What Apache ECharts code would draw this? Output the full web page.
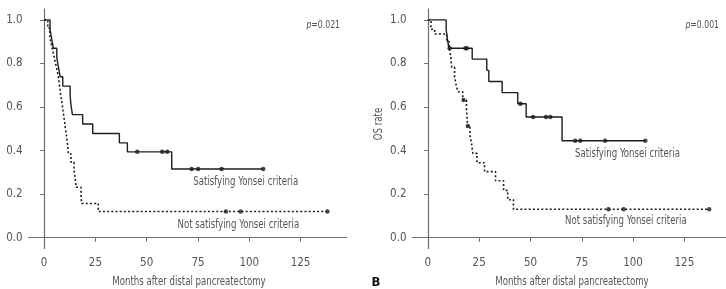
<!DOCTYPE html>
<html>
<head>
<meta charset="utf-8">
<script src="https://cdn.jsdelivr.net/npm/echarts@6/dist/echarts.min.js"></script>
<style>
html, body { margin: 0; padding: 0; background: #fff; }
#chart { width: 726px; height: 289px; }
</style>
</head>
<body>
<div id="chart"></div>
<script>
// tick labels
var xTicks = [0, 25, 50, 75, 100, 125];
var yTicks = [0, 0.2, 0.4, 0.6, 0.8, 1.0];

// panel A : [months, survival]
var aYes = [[0, 1.0], [2.9, 0.957], [3.7, 0.913], [4.5, 0.870], [6.2, 0.826], [7.0, 0.783], [7.8, 0.739],
    [9.1, 0.696], [12.7, 0.652], [13.1, 0.609], [13.8, 0.565], [18.8, 0.522], [23.7, 0.478], [36.7, 0.435],
    [40.6, 0.394], [62.2, 0.315], [106.8, 0.315]];
var aYesCens = [[45.4, 0.394], [57.6, 0.394], [60.0, 0.394], [71.9, 0.315], [75.1, 0.315], [86.5, 0.315], [106.8, 0.315]];
var aNo = [[0, 1.0], [1.8, 0.962], [2.8, 0.923], [3.6, 0.885], [4.5, 0.846], [5.4, 0.808], [6.3, 0.769],
    [7.1, 0.731], [7.6, 0.692], [8.1, 0.654], [8.8, 0.615], [9.3, 0.577], [9.9, 0.538], [10.4, 0.5],
    [11.0, 0.462], [11.5, 0.423], [11.8, 0.385], [13.1, 0.346], [14.6, 0.308], [15.2, 0.269], [15.6, 0.231],
    [18.0, 0.192], [18.3, 0.157], [26.4, 0.12], [138.1, 0.12]];
var aNoCens = [[88.6, 0.12], [95.8, 0.12], [138.1, 0.12]];

// panel B
var bYes = [[0, 1.0], [8.9, 0.957], [9.5, 0.913], [10.2, 0.870], [21.6, 0.82], [28.7, 0.768], [29.7, 0.717],
    [36.2, 0.666], [43.8, 0.615], [47.9, 0.554], [65.4, 0.445], [106, 0.445]];
var bYesCens = [[10.6, 0.87], [18.3, 0.87], [19.0, 0.87], [45.1, 0.615], [51.3, 0.554], [57.6, 0.554], [59.7, 0.554],
    [71.8, 0.445], [74.3, 0.445], [86.4, 0.445], [106, 0.445]];
var bNo = [[0, 1.0], [1.5, 0.957], [3.3, 0.935], [9.2, 0.90], [10.4, 0.87], [11.2, 0.826], [11.6, 0.783],
    [13.0, 0.739], [13.8, 0.70], [14.6, 0.67], [17.0, 0.632], [18.8, 0.59], [19.1, 0.553], [19.3, 0.513],
    [20.5, 0.47], [21.3, 0.43], [21.9, 0.387], [23.9, 0.344], [27.6, 0.303], [33.0, 0.261], [36.9, 0.217],
    [38.9, 0.174], [41.7, 0.13], [137.1, 0.13]];
var bNoCens = [[17.4, 0.632], [19.5, 0.513], [88, 0.13], [95.4, 0.13], [137.1, 0.13]];

var FONT = "'Liberation Sans Narrow', 'DejaVu Sans Condensed', 'Liberation Sans', sans-serif";
var TXT = '#555';
var AX = '#6e6e6e';
var LINE = '#1e1e1e';
var SQUEEZE = 0.83;   // original uses a narrow face

var chart = echarts.init(document.getElementById('chart'));

function makeX(idx) {
    return {
        gridIndex: idx, type: 'value', min: -7.5, max: 147.5,
        axisLine: { show: true, lineStyle: { color: AX, width: 1.2 } },
        axisTick: { show: true, length: 4, customValues: xTicks, lineStyle: { color: AX } },
        axisLabel: { customValues: xTicks, margin: 9, color: TXT, fontSize: 11.5, fontFamily: FONT },
        splitLine: { show: false }
    };
}

function makeY(idx) {
    return {
        gridIndex: idx, type: 'value', min: -0.05, max: 1.05,
        axisLine: { show: true, lineStyle: { color: AX, width: 1.2 } },
        axisTick: { show: true, length: 4, customValues: yTicks, lineStyle: { color: AX } },
        axisLabel: {
            customValues: yTicks, margin: 6, color: TXT, fontSize: 11.5, fontFamily: FONT,
            formatter: function (v) { return v.toFixed(1); }
        },
        splitLine: { show: false }
    };
}

function stepLine(idx, data, dotted) {
    return {
        type: 'line', xAxisIndex: idx, yAxisIndex: idx, step: 'end', data: data,
        showSymbol: false, silent: true,
        lineStyle: { color: LINE, width: dotted ? 1.6 : 1.4, type: dotted ? [2, 2.2] : 'solid' }
    };
}

function censMarks(idx, data) {
    return {
        type: 'scatter', xAxisIndex: idx, yAxisIndex: idx, data: data,
        symbol: 'circle', symbolSize: 4.5, itemStyle: { color: LINE }, silent: true
    };
}

function label(x, y, text, align, rot) {
    return {
        type: 'text', x: x, y: y, scaleX: SQUEEZE, rotation: rot || 0,
        style: { text: text, fill: TXT, font: '11.5px ' + FONT, align: align || 'left', verticalAlign: 'middle' }
    };
}

function pLabel(x, y, val) {
    return {
        type: 'text', x: x, y: y, scaleX: 0.82,
        style: {
            text: '{i|p}{n|=' + val + '}', align: 'right', verticalAlign: 'middle',
            rich: {
                i: { fontStyle: 'italic', fontSize: 10.5, fontFamily: FONT, fill: TXT },
                n: { fontSize: 10.5, fontFamily: FONT, fill: TXT }
            }
        }
    };
}

option = {
    animation: false,
    backgroundColor: '#fff',
    grid: [
        { left: 28.7, top: 9, width: 318, height: 239.5, outerBoundsMode: 'none' },
        { left: 412.5, top: 9, width: 318, height: 239.5, outerBoundsMode: 'none' }
    ],
    xAxis: [makeX(0), makeX(1)],
    yAxis: [makeY(0), makeY(1)],
    series: [
        stepLine(0, aYes, false), censMarks(0, aYesCens),
        stepLine(0, aNo, true), censMarks(0, aNoCens),
        stepLine(1, bYes, false), censMarks(1, bYesCens),
        stepLine(1, bNo, true), censMarks(1, bNoCens)
    ],
    graphic: [
        // panel A
        pLabel(340, 25.5, '0.021'),
        label(193.3, 181.7, 'Satisfying Yonsei criteria'),
        label(177.5, 225, 'Not satisfying Yonsei criteria'),
        label(189, 282.5, 'Months after distal pancreatectomy', 'center'),
        // panel B
        pLabel(719, 25, '0.001'),
        label(575, 154, 'Satisfying Yonsei criteria'),
        label(565, 221, 'Not satisfying Yonsei criteria'),
        label(572, 282.5, 'Months after distal pancreatectomy', 'center'),
        label(379.2, 124, 'OS rate', 'center', Math.PI / 2),
        {
            type: 'text', x: 376, y: 283,
            style: { text: 'B', fill: '#111', font: 'bold 13px ' + FONT, align: 'center', verticalAlign: 'middle' }
        }
    ]
};

chart.setOption(option);
</script>
</body>
</html>
